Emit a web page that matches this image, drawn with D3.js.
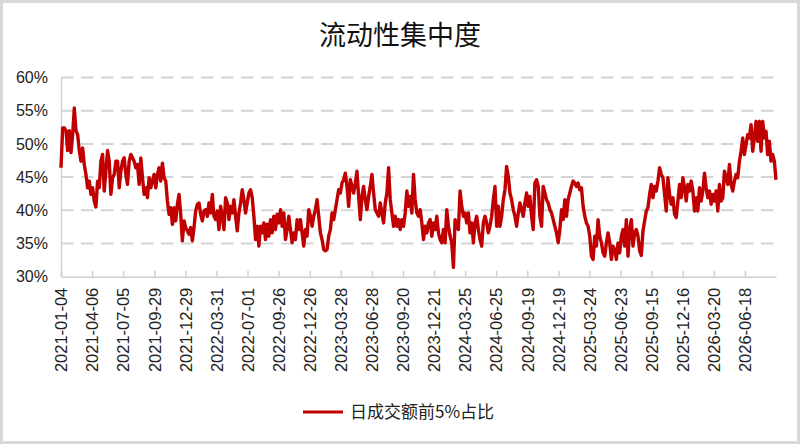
<!DOCTYPE html>
<html lang="zh">
<head>
  <meta charset="UTF-8">
  <title>流动性集中度</title>
  <style>
    body {
      margin: 0;
      padding: 0;
      background: #fff;
    }
    svg {
      display: block;
    }
  </style>
</head>
<body>

<script src="https://d3js.org/d3.v7.min.js"></script>

<script>
  // Tick labels on the category axis (one every 61 trading days)
  const tickLabels = [
    '2021-01-04', '2021-04-06', '2021-07-05', '2021-09-29', '2021-12-29',
    '2022-03-31', '2022-07-01', '2022-09-26', '2022-12-26', '2023-03-28',
    '2023-06-28', '2023-09-20', '2023-12-21', '2024-03-25', '2024-06-25',
    '2024-09-19', '2024-12-19', '2025-03-24', '2025-06-23', '2025-09-15',
    '2025-12-16', '2026-03-20', '2026-06-18'
  ];

  // Number of tick intervals the series spans
  const spanIntervals = 23;

  // y axis ticks (%)
  const yTicks = [30, 35, 40, 45, 50, 55, 60];

  // Share of turnover taken by the top 5% (%), sampled evenly over the whole span
  const shares = [
    46.4, 52.4, 52.4, 52, 49, 52, 48.7, 51.4, 55.4, 52, 51.4, 49, 47.4, 49.4, 46.9, 45.4,
    43.4, 44.4, 42.4, 43.4, 41.4, 40.5, 44.4, 43.4, 47.4, 48.4, 42.9, 45.9, 49, 47.4, 42.4,
    44.9, 45.4, 47.4, 47.4, 43.4, 45.9, 47.4, 47.9, 45.4, 43.9, 47.4, 48.4, 47.9, 47.4, 46.4,
    46.9, 43.9, 47.9, 44.9, 42.4, 43.4, 41.9, 44.9, 43.4, 44.4, 45.4, 43.4, 45.4, 46.4, 44.4,
    47.1, 44.9, 44.4, 41.4, 39.4, 40.4, 37.9, 40.4, 38.4, 40.9, 42.4, 39.4, 35.4, 38.4, 37.4,
    36.9, 36.4, 37.4, 35.4, 37.4, 39.9, 40.9, 41.1, 39.4, 38.4, 39.9,
    // 2022
    40.1, 39.1, 41.1, 39.6, 42.4, 39.1, 38.6, 39.9, 37.1, 40.6, 39.1, 37.1, 41.9, 41.1, 38.6,
    40.6, 39.6, 41.6, 39.1, 36.9, 39.6, 41.1, 43.1, 41.6, 39.6, 41.1, 42.6, 43.1, 41.9, 39.1,
    35.6, 37.6, 34.6, 37.6, 36.6, 38.1, 35.6, 37.9, 36.1, 38.6, 36.6, 39.1, 37.1, 39.4, 38.1,
    40.1, 37.6, 39.6, 35.6, 37.1, 39.1, 37.1, 35.1, 36.6, 35.6, 38.6, 37.1, 38.6, 36.6, 34.6,
    37.1, 36.1, 40.1, 39.1, 37.6, 39.1, 40.1, 41.6, 39.1, 36.6, 35.6, 34.1, 33.9, 34.1, 36.1,
    37.1, 39.6, 38.6, 40.1, 41.6, 43.1, 42.6, 44.1, 44.6, 45.6, 43.6, 40.6,
    // 2023
    44.6, 43.6, 42.6, 44.1, 45.9, 42.1, 38.6, 42.1, 43.6, 41.6, 40.1, 42.1, 43.6, 45.4, 42.6,
    40.1, 39.6, 39.1, 41.1, 39.6, 38.1, 41.1, 42.6, 46.4, 41.6, 39.6, 37.6, 39.1, 37.6, 38.6,
    37.1, 38.6, 37.6, 39.6, 42.9, 40.6, 42.1, 39.6, 45.4, 41.6, 39.6, 39.1, 40.1, 38.1, 35.6,
    37.6, 36.6, 38.1, 38.6, 36.1, 38.1, 37.1, 39.1, 36.6, 35.6, 35.1, 37.1, 35.1, 40.1, 37.6,
    36.1, 35.1, 31.4, 38.6, 37.6, 37.1, 42.9, 40.6, 39.1, 39.6, 38.1, 39.6, 36.6, 38.1, 35.1,
    38.1, 39.1, 37.1, 35.6, 34.6, 38.1, 39.1, 38.1, 36.6, 37.6, 39.1, 41.6,
    // 2024
    43.6, 37.6, 40.6, 37.6, 39.1, 41.6, 43.1, 46.6, 45.1, 42.6, 41.6, 40.1, 39.1, 37.6, 39.6,
    41.1, 40.1, 39.1, 41.1, 42.6, 40.6, 42.1, 39.1, 37.1, 44.1, 44.6, 43.6, 39.1, 37.6, 43.6,
    42.6, 41.6, 41.1, 40.1, 39.6, 38.6, 37.6, 36.6, 35.1, 37.1, 40.1, 38.6, 41.6, 39.1, 41.6,
    42.6, 43.6, 44.4, 44.1, 43.6, 44.1, 43.1, 43.4, 40.6, 39.1, 38.1, 37.6, 36.1, 33.1, 32.6,
    36.1, 34.6, 38.6, 36.1, 35.1, 33.6, 33.1, 35.1, 36.6, 35.1, 32.6, 34.6, 34.1, 32.6, 35.1,
    33.6, 36.1, 37.1, 34.6, 38.6, 33.1, 37.1, 38.6, 34.6, 36.6, 37.1, 36.1,
    // 2025
    33.9, 33.2, 36.9, 38.4, 39.9, 40.4, 42.4, 43.9, 41.9, 43.6, 42.9, 44.4, 46.4, 45.4, 44.9,
    42.4, 39.9, 44.9, 42.4, 40.9, 41.9, 39.4, 38.9, 41.4, 43.9, 41.9, 44.9, 43.4, 41.4, 43.9,
    42.9, 44.4, 42.9, 39.9, 41.9, 39.9, 43.4, 41.4, 42.9, 45.6, 43.4, 41.9, 42.9, 40.9, 42.4,
    41.4, 42.9, 39.9, 43.9, 41.4, 41.9, 45.9, 44.9, 43.9, 46.9, 43.9, 42.9, 44.4, 45.4, 44.9,
    47.4, 48.9, 50.9, 48.4, 49.9, 51.4, 50.9, 52.9, 48.9, 50.9, 53.4, 50.4, 53.4, 48.9, 53.4,
    50.9, 51.9, 48.4, 50.4, 47.4, 48.4, 47.4, 44.6
  ];

  const width = 800;
  const height = 444;
  const margin = { top: 77.5, right: 24, bottom: 167.3, left: 61 };
  const plotW = width - margin.left - margin.right;
  const plotH = height - margin.top - margin.bottom;

  // Set up SVG container
  const svg = d3.select('body').append('svg')
    .attr('width', width)
    .attr('height', height);

  // Light grey frame round the chart
  svg.append('rect')
    .attr('x', 1.5)
    .attr('y', 1.5)
    .attr('width', width - 3)
    .attr('height', height - 3)
    .attr('fill', '#fff')
    .attr('stroke', '#d9d9d9')
    .attr('stroke-width', 3);

  const g = svg.append('g')
    .attr('transform', `translate(${margin.left},${margin.top})`);

  // Scales: x runs in tick intervals, y in percent
  const x = d3.scaleLinear().domain([0, spanIntervals]).range([0, plotW]);
  const y = d3.scaleLinear().domain([30, 60]).range([plotH, 0]);
  const step = spanIntervals / (shares.length - 1);

  // Title
  svg.append('text')
    .attr('x', 400)
    .attr('y', 45)
    .attr('text-anchor', 'middle')
    .style('font-family', '"Noto Sans CJK SC", sans-serif')
    .style('font-size', '27px')
    .style('fill', '#111')
    .text('流动性集中度');

  // Dashed gridlines
  g.selectAll('line.grid')
    .data(yTicks.filter(d => d > 30))
    .enter().append('line')
    .attr('class', 'grid')
    .attr('x1', 0)
    .attr('x2', plotW + 2)
    .attr('y1', d => y(d))
    .attr('y2', d => y(d))
    .attr('stroke', '#d4d4d4')
    .attr('stroke-width', 2)
    .attr('stroke-dasharray', '12.5,7.5');

  // y axis
  const yAxis = g.append('g')
    .call(d3.axisLeft(y).tickValues(yTicks).tickSize(0).tickPadding(13).tickFormat(d => d + '%'));
  yAxis.select('.domain').attr('stroke', '#d0d0d0').attr('stroke-width', 1.5);
  yAxis.selectAll('text')
    .style('font-family', '"Liberation Sans", Arial, sans-serif')
    .style('font-size', '16px')
    .style('fill', '#222');

  // x axis: ticks point up into the plot
  const xAxis = g.append('g')
    .attr('transform', `translate(0,${plotH})`)
    .call(d3.axisBottom(x)
      .tickValues(d3.range(tickLabels.length))
      .tickSizeInner(-6)
      .tickSizeOuter(0)
      .tickFormat(i => tickLabels[i]));
  xAxis.select('.domain').attr('stroke', '#d0d0d0').attr('stroke-width', 1.5);
  xAxis.selectAll('line').attr('stroke', '#d0d0d0').attr('stroke-width', 1.5);
  xAxis.selectAll('text')
    .attr('transform', 'rotate(-90)')
    .attr('x', -11)
    .attr('y', 0)
    .attr('dy', '0.35em')
    .style('text-anchor', 'end')
    .style('font-family', '"Liberation Sans", Arial, sans-serif')
    .style('font-size', '16.5px')
    .style('fill', '#222');

  // Series line
  const line = d3.line()
    .x((d, i) => x(i * step))
    .y(d => y(d));

  g.append('path')
    .datum(shares)
    .attr('fill', 'none')
    .attr('stroke', '#c00000')
    .attr('stroke-width', 3.4)
    .attr('stroke-linejoin', 'round')
    .attr('d', line);

  // Legend
  const legend = svg.append('g')
    .attr('transform', 'translate(303,412)');
  legend.append('line')
    .attr('x1', 0)
    .attr('x2', 40)
    .attr('stroke', '#c00000')
    .attr('stroke-width', 3);
  legend.append('text')
    .attr('x', 47)
    .attr('dy', '0.36em')
    .style('font-family', '"Noto Sans CJK SC", sans-serif')
    .style('font-size', '17px')
    .style('fill', '#222')
    .text('日成交额前5%占比');
</script>

</body>
</html>
